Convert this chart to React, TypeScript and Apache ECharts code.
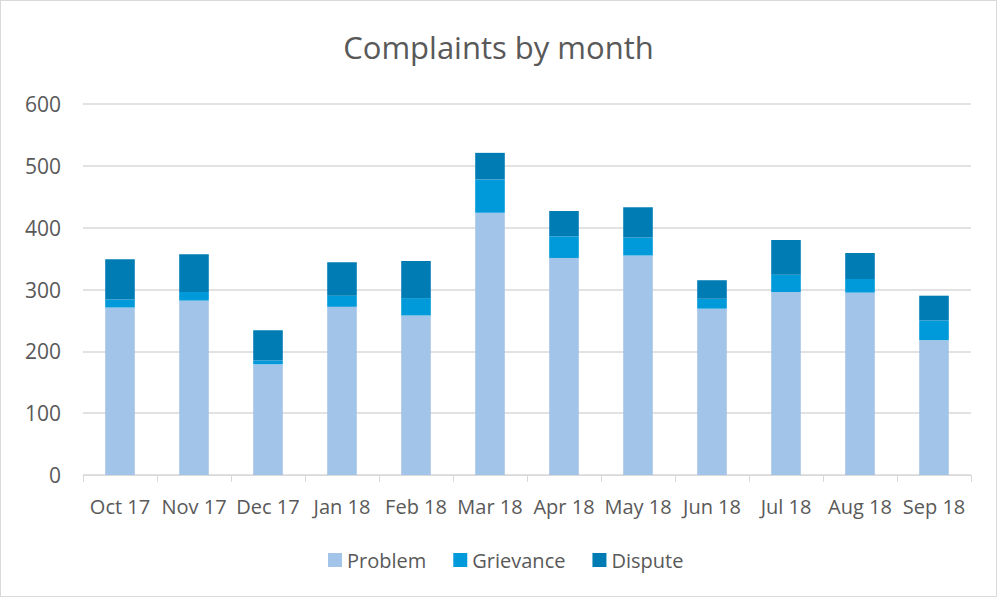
import React, { useEffect, useRef } from "react";
import * as echarts from "echarts";

const categories = ["Oct 17", "Nov 17", "Dec 17", "Jan 18", "Feb 18", "Mar 18", "Apr 18", "May 18", "Jun 18", "Jul 18", "Aug 18", "Sep 18"];
const problem = [271, 282, 179, 272, 258, 424, 351, 355, 269, 296, 295, 218];
const grievance = [13, 14, 6, 18, 28, 54, 35, 29, 16, 28, 22, 32];
const dispute = [65, 61, 49, 54, 60, 43, 41, 49, 30, 56, 42, 40];
const yTicks = { min: 0, max: 600, interval: 100 };

const FONT = "'Open Sans', 'Noto Sans', sans-serif";

export default function App() {
  const ref = useRef<HTMLDivElement>(null);
  useEffect(() => {
    if (!ref.current) return;
    const chart = echarts.init(ref.current, null, { renderer: "svg" });
    const mk = (name: string, data: number[], color: string) => ({
      name,
      type: "bar",
      stack: "total",
      data,
      barWidth: "40%",
      itemStyle: { color },
    });
    chart.setOption({
      animation: false,
      backgroundColor: "#ffffff",
      textStyle: { fontFamily: FONT },
      title: {
        text: "Complaints by month",
        left: "center",
        top: 25,
        textStyle: { fontFamily: FONT, fontSize: 31, fontWeight: "normal", color: "#595959" },
      },
      legend: {
        top: 544,
        left: 322,
        itemWidth: 14,
        itemHeight: 14,
        itemGap: 27,
        icon: "rect",
        textStyle: { fontFamily: FONT, fontSize: 20, color: "#595959" },
        data: ["Problem", "Grievance", "Dispute"],
      },
      grid: { left: 82, right: 25, top: 103, bottom: 121, containLabel: false },
      xAxis: {
        type: "category",
        data: categories,
        axisLine: { lineStyle: { color: "#d9d9d9", width: 1 } },
        axisTick: { show: true, length: 7, lineStyle: { color: "#d9d9d9" } },
        axisLabel: { fontFamily: FONT, fontSize: 20, color: "#595959", margin: 21, interval: 0 },
      },
      yAxis: {
        type: "value",
        min: yTicks.min,
        max: yTicks.max,
        interval: yTicks.interval,
        axisLine: { show: false },
        axisTick: { show: false },
        splitLine: { lineStyle: { color: "#d9d9d9", width: 1.5 } },
        axisLabel: { fontFamily: FONT, fontSize: 21, color: "#595959", margin: 22 },
      },
      series: [
        mk("Problem", problem, "#a2c4e8"),
        mk("Grievance", grievance, "#0099da"),
        mk("Dispute", dispute, "#007cb4"),
      ],
    });
    return () => chart.dispose();
  }, []);
  return (
    <div
      ref={ref}
      style={{
        position: "fixed",
        left: 0,
        top: 0,
        width: 997,
        height: 597,
        boxSizing: "border-box",
        border: "1px solid #d9d9d9",
        background: "#fff",
      }}
    />
  );
}
